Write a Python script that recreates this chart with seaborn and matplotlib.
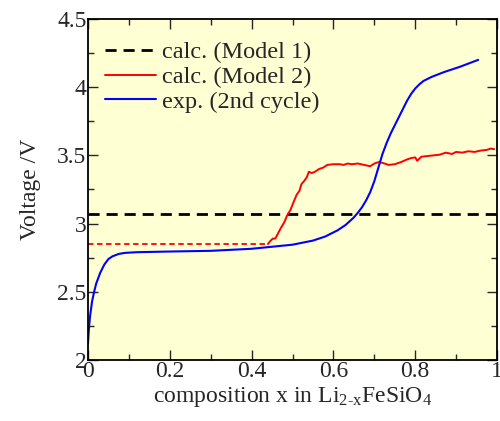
import numpy as np
import pandas as pd
import seaborn as sns
import matplotlib
matplotlib.use("Agg")
import matplotlib.pyplot as plt
from matplotlib.ticker import MultipleLocator, FormatStrFormatter

# calc. (Model 1): constant voltage
model1_v = 3.07

# calc. (Model 2): plateau (dashed) then computed curve
model2_plateau_v = 2.85
model2_plateau_end = 0.44
model2_x = [0.44, 0.445, 0.452, 0.458, 0.465, 0.472, 0.48, 0.487, 0.495, 0.503,
            0.51, 0.517, 0.522, 0.528, 0.535, 0.54, 0.547, 0.555, 0.565, 0.575,
            0.585, 0.6, 0.615, 0.625, 0.635, 0.645, 0.66, 0.675, 0.69, 0.7,
            0.71, 0.72, 0.735, 0.75, 0.765, 0.78, 0.79, 0.8, 0.805, 0.815,
            0.83, 0.845, 0.86, 0.875, 0.89, 0.9, 0.915, 0.93, 0.945, 0.96,
            0.975, 0.985, 0.993]
model2_v = [2.85, 2.87, 2.89, 2.89, 2.93, 2.97, 3.01, 3.06, 3.1, 3.16,
            3.21, 3.24, 3.29, 3.31, 3.34, 3.38, 3.37, 3.38, 3.4, 3.41,
            3.43, 3.435, 3.435, 3.43, 3.44, 3.435, 3.44, 3.43, 3.42, 3.44,
            3.45, 3.445, 3.43, 3.435, 3.45, 3.47, 3.48, 3.485, 3.46, 3.49,
            3.495, 3.5, 3.505, 3.52, 3.51, 3.525, 3.52, 3.53, 3.525, 3.535,
            3.54, 3.55, 3.545]

# exp. (2nd cycle)
exp_x = [0, 0.002, 0.005, 0.01, 0.015, 0.02, 0.03, 0.04, 0.05, 0.06,
         0.075, 0.09, 0.12, 0.2, 0.3, 0.4, 0.45, 0.5, 0.55, 0.58,
         0.61, 0.63, 0.65, 0.66, 0.67, 0.68, 0.69, 0.7, 0.71, 0.72,
         0.73, 0.74, 0.75, 0.76, 0.77, 0.78, 0.79, 0.8, 0.81, 0.82,
         0.84, 0.87, 0.91, 0.954]
exp_v = [2.12, 2.22, 2.32, 2.43, 2.5, 2.56, 2.64, 2.7, 2.74, 2.76,
         2.777, 2.785, 2.79, 2.795, 2.8, 2.815, 2.83, 2.845, 2.875, 2.905,
         2.95, 2.99, 3.045, 3.08, 3.12, 3.17, 3.23, 3.31, 3.41, 3.51,
         3.59, 3.66, 3.72, 3.78, 3.84, 3.9, 3.95, 3.99, 4.02, 4.045,
         4.075, 4.11, 4.15, 4.2]

sns.set_style("ticks")
plt.rcParams['font.family'] = ['Liberation Serif', 'DejaVu Serif']
plt.rcParams['mathtext.fontset'] = 'custom'
plt.rcParams['mathtext.rm'] = 'Liberation Serif'
plt.rcParams['mathtext.it'] = 'Liberation Serif:italic'

fig = plt.figure(figsize=(5, 4.21), dpi=100)
ax = fig.add_axes([0.176, 0.145, 0.818, 0.81])
ax.set_facecolor('#ffffd4')

ax.axhline(model1_v, color='black', ls=(0, (4, 2.5)), lw=2.0, label='calc. (Model 1)')
sns.lineplot(x=model2_x, y=model2_v, ax=ax, color='red', lw=1.4,
             label='calc. (Model 2)', estimator=None, sort=False)
ax.plot([0, model2_plateau_end], [model2_plateau_v, model2_plateau_v],
        color='red', ls=(0, (3, 2)), lw=1.3)
sns.lineplot(x=exp_x, y=exp_v, ax=ax, color='blue', lw=1.5,
             label='exp. (2nd cycle)', estimator=None, sort=False)

ax.set_xlim(0, 1)
ax.set_ylim(2, 4.5)
ax.xaxis.set_major_locator(MultipleLocator(0.2))
ax.xaxis.set_minor_locator(MultipleLocator(0.1))
ax.yaxis.set_major_locator(MultipleLocator(0.5))
ax.yaxis.set_minor_locator(MultipleLocator(0.25))
ax.xaxis.set_major_formatter(FormatStrFormatter('%g'))
ax.yaxis.set_major_formatter(FormatStrFormatter('%g'))
ax.tick_params(which='both', direction='in', top=True, right=True,
               labelsize=17, width=1.0, pad=1)
ax.tick_params(which='major', length=7)
ax.tick_params(which='minor', length=4)
for s in ax.spines.values():
    s.set_linewidth(1.3)
    s.set_color('black')

ax.set_xlabel(r'composition x in Li$_{\mathrm{2\text{-}x}}$FeSiO$_{4}$', fontsize=17, labelpad=2)
ax.set_ylabel('Voltage /V', fontsize=17, labelpad=12)

ax.legend(loc='upper left', frameon=False, fontsize=17.5, handlelength=2.1,
          labelspacing=0.12, handletextpad=0.25, borderaxespad=0.3,
          bbox_to_anchor=(0.0, 0.985))

fig.savefig('out.png', dpi=100)
